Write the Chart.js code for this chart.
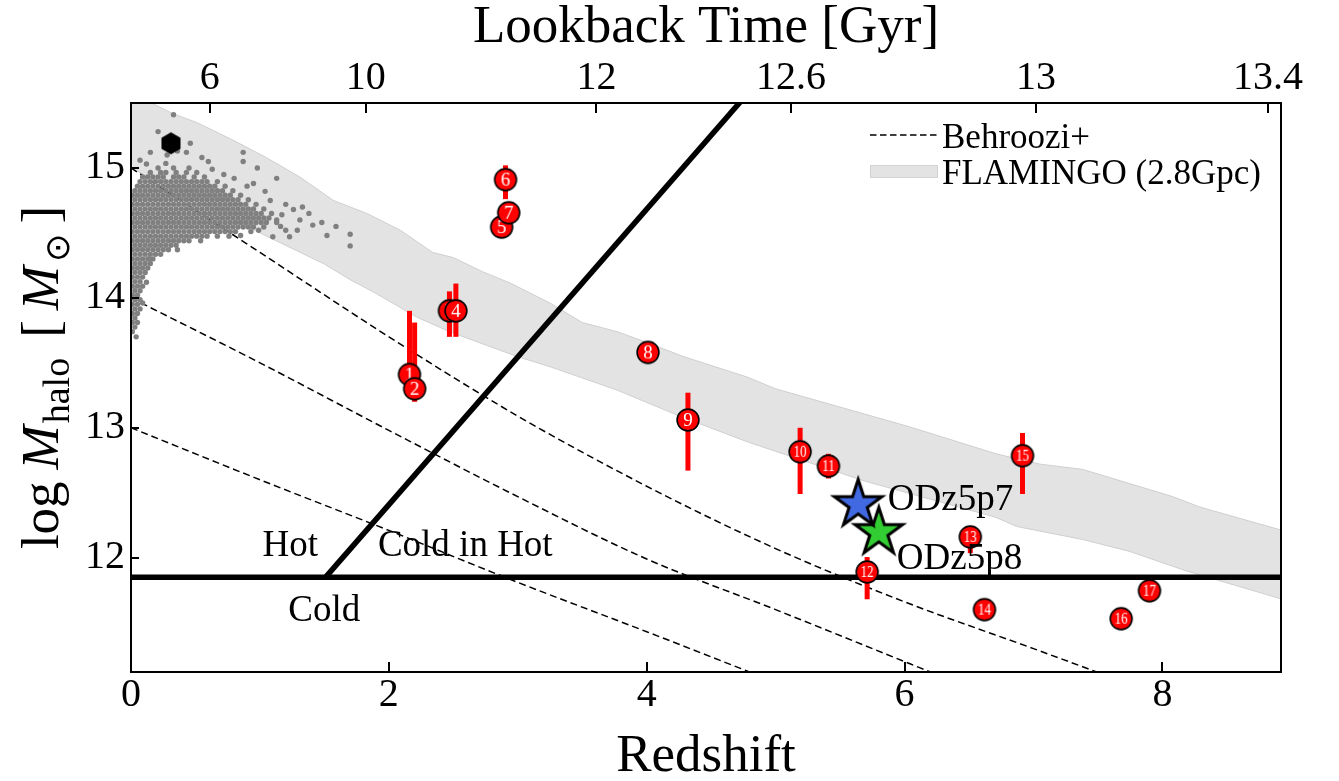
<!DOCTYPE html>
<html>
<head>
<meta charset="utf-8">
<title>Halo mass vs redshift</title>
<script src="https://cdn.jsdelivr.net/npm/chart.js@4.4.1/dist/chart.umd.min.js"></script>
<style>
  html, body { margin: 0; padding: 0; background: #ffffff; }
  #wrap { width: 1339px; height: 781px; }
</style>
</head>
<body>
<div id="wrap"><canvas id="chart" width="1339" height="781"></canvas></div>
<script>
// ---------------- axis ranges and ticks ----------------
const xMin = 0, xMax = 8.92;
const yMin = 11.12, yMax = 15.5;
const xTicks = [0, 2, 4, 6, 8];
const yTicks = [12, 13, 14, 15];
const lookbackTickZ = [0.61, 1.82, 3.61, 5.12, 7.02, 8.82];
const lookbackTickLabels = ['6', '10', '12', '12.6', '13', '13.4'];

// ---------------- FLAMINGO (2.8Gpc) halo-mass band ----------------
const flamingoUpperZ = [0, 0.19, 0.32, 0.51, 0.79, 1.05, 1.31, 1.57, 1.83, 2.09, 2.34, 2.50, 2.73, 2.94, 3.25, 3.50, 3.77, 4.02, 4.28, 4.78, 5.00, 6.03, 6.71, 7.05, 7.38, 8.08, 8.29, 8.93];
const flamingoUpperM = [15.58, 15.485, 15.42, 15.35, 15.215, 15.08, 14.93, 14.75, 14.65, 14.52, 14.35, 14.31, 14.20, 14.115, 13.96, 13.81, 13.74, 13.65, 13.55, 13.39, 13.30, 13.01, 12.80, 12.72, 12.68, 12.47, 12.39, 12.21];
const flamingoLowerZ = [0, 0.50, 1.00, 1.50, 1.70, 1.89, 2.22, 2.47, 2.99, 3.25, 3.77, 4.28, 4.80, 5.69, 6.71, 6.87, 7.38, 7.74, 8.18, 8.93];
const flamingoLowerM = [15.00, 14.75, 14.50, 14.26, 14.14, 14.04, 13.85, 13.74, 13.55, 13.47, 13.29, 13.08, 12.885, 12.59, 12.31, 12.24, 12.14, 12.05, 11.90, 11.68];

// ---------------- Behroozi+ median growth tracks ----------------
const behrooziZ15 = [0, 1, 2, 3, 4, 5, 6, 7, 7.6];
const behrooziM15 = [15.0, 14.35, 13.70, 13.09, 12.55, 12.07, 11.66, 11.30, 11.08];
const behrooziZ14 = [0, 1, 2, 3, 4, 5, 6, 6.3];
const behrooziM14 = [14.0, 13.50, 12.98, 12.47, 11.99, 11.60, 11.20, 11.08];
const behrooziZ13 = [0, 1, 2, 3, 4, 4.85];
const behrooziM13 = [13.0, 12.60, 12.21, 11.81, 11.43, 11.10];

// ---------------- cold / hot accretion boundaries ----------------
const shockFlatZ = [0, 8.92];
const shockFlatM = [11.85, 11.85];
const shockSlopeZ = [1.51, 5.0];
const shockSlopeM = [11.85, 15.82];

// ---------------- local massive clusters (grey cloud), rows of [logM, [z...]] ----------------
const clusterRows = [
  [13.74, [0.01]],
  [13.775, [0.03]],
  [13.81, [0.01, 0.05]],
  [13.845, [0.03]],
  [13.88, [0.01, 0.05]],
  [13.915, [0.03, 0.07]],
  [13.95, [0.01, 0.05]],
  [13.985, [0.03, 0.07]],
  [14.02, [0.01, 0.05]],
  [14.055, [0.03, 0.07]],
  [14.09, [0.01, 0.05, 0.09]],
  [14.125, [0.03, 0.07]],
  [14.16, [0.01, 0.05, 0.09]],
  [14.195, [0.03, 0.07, 0.11]],
  [14.23, [0.01, 0.05, 0.09, 0.13]],
  [14.265, [0.03, 0.07, 0.11, 0.15]],
  [14.30, [0.01, 0.05, 0.09, 0.13, 0.17]],
  [14.335, [0.03, 0.07, 0.11, 0.15, 0.19, 0.23]],
  [14.37, [0.01, 0.05, 0.09, 0.13, 0.17, 0.21, 0.25, 0.29, 0.36]],
  [14.405, [0.03, 0.07, 0.11, 0.15, 0.19, 0.23, 0.27, 0.31, 0.35]],
  [14.44, [0.01, 0.05, 0.09, 0.13, 0.17, 0.21, 0.25, 0.29, 0.33, 0.37, 0.41, 0.45, 0.54]],
  [14.475, [0.03, 0.07, 0.11, 0.15, 0.19, 0.23, 0.27, 0.31, 0.35, 0.39, 0.43, 0.47, 0.51, 0.55, 0.59, 0.67, 0.76]],
  [14.51, [0.01, 0.05, 0.09, 0.13, 0.17, 0.21, 0.25, 0.29, 0.33, 0.37, 0.41, 0.45, 0.49, 0.53, 0.57, 0.61, 0.65, 0.69, 0.73, 0.77, 0.81, 0.93]],
  [14.545, [0.03, 0.07, 0.11, 0.15, 0.19, 0.23, 0.27, 0.31, 0.35, 0.39, 0.43, 0.47, 0.51, 0.55, 0.59, 0.63, 0.67, 0.71, 0.75, 0.79, 0.83, 0.87, 0.91, 0.95, 1.03]],
  [14.58, [0.01, 0.05, 0.09, 0.13, 0.17, 0.21, 0.25, 0.29, 0.33, 0.37, 0.41, 0.45, 0.49, 0.53, 0.57, 0.61, 0.65, 0.69, 0.73, 0.77, 0.81, 0.85, 0.89, 0.93, 0.97, 1.01, 1.05, 1.13]],
  [14.615, [0.03, 0.07, 0.11, 0.15, 0.19, 0.23, 0.27, 0.31, 0.35, 0.39, 0.43, 0.47, 0.51, 0.55, 0.59, 0.63, 0.67, 0.71, 0.75, 0.79, 0.83, 0.87, 0.91, 0.95, 0.99, 1.03, 1.07]],
  [14.65, [0.01, 0.05, 0.09, 0.13, 0.17, 0.21, 0.25, 0.29, 0.33, 0.37, 0.41, 0.45, 0.49, 0.53, 0.57, 0.61, 0.65, 0.69, 0.73, 0.77, 0.81, 0.85, 0.89, 0.93, 0.97, 1.01, 1.09]],
  [14.685, [0.03, 0.07, 0.11, 0.15, 0.19, 0.23, 0.27, 0.31, 0.35, 0.39, 0.43, 0.47, 0.51, 0.55, 0.59, 0.63, 0.67, 0.71, 0.75, 0.79, 0.83, 0.87, 0.91, 0.95, 1.03]],
  [14.72, [0.01, 0.05, 0.09, 0.13, 0.17, 0.21, 0.25, 0.29, 0.33, 0.37, 0.41, 0.45, 0.49, 0.53, 0.57, 0.61, 0.65, 0.69, 0.73, 0.77, 0.81, 0.85, 0.89, 0.97]],
  [14.755, [0.03, 0.07, 0.11, 0.15, 0.19, 0.23, 0.27, 0.31, 0.35, 0.39, 0.43, 0.47, 0.51, 0.55, 0.59, 0.63, 0.67, 0.71, 0.75, 0.79, 0.83, 0.91]],
  [14.79, [0.01, 0.05, 0.09, 0.13, 0.17, 0.21, 0.25, 0.29, 0.33, 0.37, 0.41, 0.45, 0.49, 0.53, 0.57, 0.61, 0.65, 0.69, 0.73, 0.77, 0.85]],
  [14.825, [0.03, 0.07, 0.11, 0.15, 0.19, 0.23, 0.27, 0.31, 0.35, 0.39, 0.43, 0.47, 0.51, 0.55, 0.59, 0.63, 0.67, 0.71, 0.79]],
  [14.86, [0.05, 0.09, 0.13, 0.17, 0.21, 0.25, 0.29, 0.33, 0.37, 0.41, 0.45, 0.49, 0.53, 0.57, 0.61, 0.65, 0.73]],
  [14.895, [0.07, 0.11, 0.15, 0.19, 0.23, 0.27, 0.31, 0.35, 0.39, 0.43, 0.47, 0.51, 0.55, 0.59, 0.67]],
  [14.93, [0.09, 0.13, 0.17, 0.21, 0.25, 0.33, 0.37, 0.41, 0.49, 0.57]],
  [14.965, [0.15, 0.23, 0.27, 0.35, 0.43, 0.51]],
  [15.0, [0.21, 0.33, 0.45]],
  [15.035, [0.27]]
];
const clusterOutliers = [
  [0.33, 15.41], [0.21, 15.28], [0.46, 15.19], [0.15, 15.12], [0.43, 15.12], [0.55, 15.08],
  [0.60, 15.05], [0.07, 15.06], [0.12, 15.03], [0.28, 15.10], [0.36, 15.13], [0.87, 15.12],
  [0.87, 15.05], [0.98, 15.00], [1.13, 14.92], [1.33, 14.70], [1.17, 14.64], [1.31, 14.60],
  [1.41, 14.56], [1.48, 14.58], [1.52, 14.48], [1.70, 14.49], [1.70, 14.40], [1.29, 14.52],
  [1.20, 14.52], [1.10, 14.47], [1.23, 14.47], [1.04, 14.82], [0.95, 14.88], [1.20, 14.72],
  [1.38, 14.65], [1.59, 14.55], [0.72, 14.95], [0.80, 14.92], [1.16, 14.55], [1.26, 14.68],
  [0.63, 14.99], [0.09, 13.96], [0.12, 14.12], [0.14, 14.30], [0.04, 13.70], [0.85, 14.48],
  [1.08, 14.75], [0.90, 14.86], [1.13, 14.60], [0.99, 14.52]
];

// most massive local cluster (black hexagon)
const hexZ = [0.31];
const hexM = [15.19];

// ---------------- numbered protocluster samples ----------------
const groupIds = ['1', '2', '3', '4', '5', '6', '7', '8', '9', '10', '11', '12', '13', '14', '15', '16', '17'];
const groupZ = [2.16, 2.20, 2.47, 2.52, 2.875, 2.905, 2.93, 4.01, 4.32, 5.19, 5.41, 5.71, 6.51, 6.62, 6.915, 7.68, 7.90];
const groupM = [13.41, 13.30, 13.90, 13.90, 14.545, 14.91, 14.655, 13.58, 13.06, 12.815, 12.705, 11.89, 12.16, 11.60, 12.785, 11.53, 11.745];
const groupErrLo = [13.40, 13.20, 13.70, 13.70, null, 14.76, null, null, 12.67, 12.49, 12.61, 11.68, 12.035, null, 12.49, null, null];
const groupErrHi = [13.90, 13.81, 14.05, 14.11, null, 15.02, null, null, 13.27, 13.00, 12.80, 12.005, 12.20, null, 12.96, null, null];

// ---------------- this work ----------------
const starNames = ['ODz5p7', 'ODz5p8'];
const starZ = [5.64, 5.80];
const starM = [12.41, 12.195];
const starColors = ['#4169e1', '#32cd32'];
const starLabelZ = [5.87, 5.94];
const starLabelM = [12.37, 11.91];

// ---------------- regime annotations ----------------
const regionTexts = ['Hot', 'Cold in Hot', 'Cold'];
const regionZ = [1.02, 1.915, 1.22];
const regionM = [12.01, 12.01, 11.51];

// ---------------- helpers ----------------
const SERIF = '"Liberation Serif", "Times New Roman", serif';
const toPoints = (zs, ms) => zs.map((z, i) => ({ x: z, y: ms[i] }));
const clusterPoints = [];
clusterRows.forEach(([m, zs]) => zs.forEach(z => clusterPoints.push({ x: z, y: m })));
clusterOutliers.forEach(([z, m]) => clusterPoints.push({ x: z, y: m }));

function markerImage(label) {
  const s = 26, c = document.createElement('canvas');
  c.width = s; c.height = s;
  const g = c.getContext('2d');
  g.beginPath();
  g.arc(s / 2, s / 2, 10.9, 0, Math.PI * 2);
  g.fillStyle = '#ff0000';
  g.fill();
  g.lineWidth = 1.6;
  g.strokeStyle = '#000000';
  g.stroke();
  g.fillStyle = '#ffffff';
  g.textAlign = 'center';
  g.textBaseline = 'middle';
  g.save();
  g.translate(s / 2, s / 2 + 1);
  if (label.length > 1) {
    g.font = '17px ' + SERIF;
    g.scale(0.76, 1);
  } else {
    g.font = '19px ' + SERIF;
  }
  g.fillText(label, 0, 0);
  g.restore();
  return c;
}

function starImage(fill) {
  const R = 25, r = R * 0.381966, pad = 7;
  const s = Math.ceil(2 * (R + pad));
  const c = document.createElement('canvas');
  c.width = s; c.height = s;
  const g = c.getContext('2d');
  g.beginPath();
  for (let i = 0; i < 10; i++) {
    const a = -Math.PI / 2 + i * Math.PI / 5;
    const rad = i % 2 ? r : R;
    const px = s / 2 + rad * Math.cos(a), py = s / 2 + rad * Math.sin(a);
    if (i === 0) g.moveTo(px, py); else g.lineTo(px, py);
  }
  g.closePath();
  g.fillStyle = fill;
  g.fill();
  g.lineJoin = 'miter';
  g.lineWidth = 3;
  g.strokeStyle = '#000000';
  g.stroke();
  return c;
}

function hexImage() {
  const R = 11, s = 26;
  const c = document.createElement('canvas');
  c.width = s; c.height = s;
  const g = c.getContext('2d');
  g.beginPath();
  for (let i = 0; i < 6; i++) {
    const a = -Math.PI / 2 + i * Math.PI / 3;
    const px = s / 2 + R * Math.cos(a), py = s / 2 + R * Math.sin(a);
    if (i === 0) g.moveTo(px, py); else g.lineTo(px, py);
  }
  g.closePath();
  g.fillStyle = '#000000';
  g.fill();
  return c;
}

const groupImages = groupIds.map(markerImage);
const starImages = starColors.map(starImage);

// ---------------- custom drawing: error bars, labels, legend, frame ----------------
const decorations = {
  id: 'decorations',
  beforeDatasetDraw(chart, args) {
    const ds = chart.data.datasets[args.index];
    if (ds.label !== 'groups') return;
    const { ctx, scales: { x, y } } = chart;
    ctx.save();
    ctx.strokeStyle = '#ff0000';
    ctx.lineWidth = 5;
    ctx.lineCap = 'butt';
    groupZ.forEach((z, i) => {
      if (groupErrLo[i] === null) return;
      const px = x.getPixelForValue(z);
      ctx.beginPath();
      ctx.moveTo(px, y.getPixelForValue(groupErrLo[i]));
      ctx.lineTo(px, y.getPixelForValue(groupErrHi[i]));
      ctx.stroke();
    });
    ctx.restore();
  },
  afterDatasetsDraw(chart) {
    const { ctx, scales: { x, y }, chartArea: a } = chart;
    ctx.save();
    ctx.fillStyle = '#000000';
    ctx.textAlign = 'left';
    ctx.textBaseline = 'alphabetic';

    ctx.font = '37px ' + SERIF;
    regionTexts.forEach((t, i) => ctx.fillText(t, x.getPixelForValue(regionZ[i]), y.getPixelForValue(regionM[i])));
    starNames.forEach((t, i) => ctx.fillText(t, x.getPixelForValue(starLabelZ[i]), y.getPixelForValue(starLabelM[i])));

    // legend (upper right, no frame)
    const hx0 = a.right - 411, hx1 = a.right - 343, tx = a.right - 339;
    ctx.strokeStyle = '#000000';
    ctx.lineWidth = 1.5;
    ctx.setLineDash([6.5, 3.5]);
    ctx.beginPath();
    ctx.moveTo(hx0, a.top + 32);
    ctx.lineTo(hx1, a.top + 32);
    ctx.stroke();
    ctx.setLineDash([]);
    ctx.fillStyle = 'rgb(227,227,227)';
    ctx.fillRect(hx0, a.top + 62, hx1 - hx0, 13);
    ctx.strokeStyle = '#d2d2d2';
    ctx.lineWidth = 1;
    ctx.strokeRect(hx0 + 0.5, a.top + 62.5, hx1 - hx0 - 1, 12);
    ctx.fillStyle = '#000000';
    ctx.font = '35px ' + SERIF;
    ctx.fillText('Behroozi+', tx, a.top + 45);
    ctx.fillText('FLAMINGO (2.8Gpc)', tx, a.top + 81);
    ctx.restore();
  },
  afterDraw(chart) {
    const { ctx, scales: { x, y }, chartArea: a } = chart;
    ctx.save();
    ctx.strokeStyle = '#000000';
    ctx.lineWidth = 2;
    ctx.strokeRect(a.left, a.top, a.right - a.left, a.bottom - a.top);
    ctx.beginPath();
    xTicks.forEach(v => {
      const px = Math.round(x.getPixelForValue(v));
      ctx.moveTo(px, a.bottom);
      ctx.lineTo(px, a.bottom - 10);
    });
    lookbackTickZ.forEach(v => {
      const px = Math.round(x.getPixelForValue(v));
      ctx.moveTo(px, a.top);
      ctx.lineTo(px, a.top + 10);
    });
    yTicks.forEach(v => {
      const py = Math.round(y.getPixelForValue(v));
      ctx.moveTo(a.left, py);
      ctx.lineTo(a.left + 8, py);
    });
    ctx.stroke();

    // y-axis title: log M_halo [M_sun]
    const big = '53px ' + SERIF, ital = 'italic 53px ' + SERIF, small = '38px ' + SERIF;
    const sym = '34px "DejaVu Sans", sans-serif';
    const parts = [
      ['log', big, 0, 12], ['M', ital, 0, 2], ['halo', small, 11, 20],
      ['[', big, 0, 10], ['M', ital, 0, 4], ['\u2299', sym, 11, 10], [']', big, 0, 0]
    ];
    let total = 0;
    parts.forEach(p => { ctx.font = p[1]; p.push(ctx.measureText(p[0]).width); total += p[4] + p[3]; });
    ctx.translate(58, (a.top + a.bottom) / 2 - 10);
    ctx.rotate(-Math.PI / 2);
    ctx.fillStyle = '#000000';
    ctx.textAlign = 'left';
    ctx.textBaseline = 'alphabetic';
    let cx = -total / 2;
    parts.forEach(p => {
      ctx.font = p[1];
      ctx.fillText(p[0], cx, p[2]);
      cx += p[4] + p[3];
    });
    ctx.restore();
  }
};

// ---------------- chart ----------------
const tickFont = { family: SERIF, size: 40, lineHeight: 1 };
const titleFont = { family: SERIF, size: 53, lineHeight: 0.9 };

new Chart(document.getElementById('chart').getContext('2d'), {
  type: 'scatter',
  data: {
    datasets: [
      {
        label: 'FLAMINGO upper',
        data: toPoints(flamingoUpperZ, flamingoUpperM),
        showLine: true, pointRadius: 0, borderColor: '#cfcfcf', borderWidth: 1,
        backgroundColor: 'rgb(227,227,227)', fill: '+1', order: 30
      },
      {
        label: 'FLAMINGO lower',
        data: toPoints(flamingoLowerZ, flamingoLowerM),
        showLine: true, pointRadius: 0, borderColor: '#cfcfcf', borderWidth: 1,
        fill: false, order: 29
      },
      {
        label: 'Behroozi 15',
        data: toPoints(behrooziZ15, behrooziM15),
        showLine: true, pointRadius: 0, borderColor: '#000000', borderWidth: 1.5,
        borderDash: [7, 4], cubicInterpolationMode: 'monotone', fill: false, order: 25
      },
      {
        label: 'Behroozi 14',
        data: toPoints(behrooziZ14, behrooziM14),
        showLine: true, pointRadius: 0, borderColor: '#000000', borderWidth: 1.5,
        borderDash: [7, 4], cubicInterpolationMode: 'monotone', fill: false, order: 24
      },
      {
        label: 'Behroozi 13',
        data: toPoints(behrooziZ13, behrooziM13),
        showLine: true, pointRadius: 0, borderColor: '#000000', borderWidth: 1.5,
        borderDash: [7, 4], cubicInterpolationMode: 'monotone', fill: false, order: 23
      },
      {
        label: 'shock flat',
        data: toPoints(shockFlatZ, shockFlatM),
        showLine: true, pointRadius: 0, borderColor: '#000000', borderWidth: 5.5,
        fill: false, order: 20
      },
      {
        label: 'shock slope',
        data: toPoints(shockSlopeZ, shockSlopeM),
        showLine: true, pointRadius: 0, borderColor: '#000000', borderWidth: 5.5,
        fill: false, order: 19
      },
      {
        label: 'clusters',
        data: clusterPoints,
        pointRadius: 2.7, pointBorderWidth: 0, pointBackgroundColor: '#808080',
        backgroundColor: '#808080', order: 15
      },
      {
        label: 'massive cluster',
        data: toPoints(hexZ, hexM),
        pointStyle: hexImage(), order: 14
      },
      {
        label: 'groups',
        data: toPoints(groupZ, groupM),
        pointStyle: groupImages, order: 10
      },
      {
        label: 'ODz5p8',
        data: toPoints([starZ[1]], [starM[1]]),
        pointStyle: starImages[1], order: 6
      },
      {
        label: 'ODz5p7',
        data: toPoints([starZ[0]], [starM[0]]),
        pointStyle: starImages[0], order: 5
      }
    ]
  },
  options: {
    responsive: false,
    animation: false,
    devicePixelRatio: 1,
    layout: { padding: { left: 0, right: 58, top: 0, bottom: 0 } },
    plugins: { legend: { display: false }, tooltip: { enabled: false } },
    events: [],
    scales: {
      x: {
        type: 'linear', position: 'bottom', min: xMin, max: xMax,
        afterBuildTicks: s => { s.ticks = xTicks.map(v => ({ value: v })); },
        afterFit: s => { s.height = 109; },
        grid: { display: false, drawTicks: false },
        border: { display: false },
        ticks: { font: tickFont, color: '#000000', padding: 3, maxRotation: 0, autoSkip: false },
        title: { display: true, text: 'Redshift', font: titleFont, color: '#000000', padding: { top: 0, bottom: 0 } }
      },
      xTop: {
        type: 'linear', position: 'top', axis: 'x', min: xMin, max: xMax,
        afterBuildTicks: s => { s.ticks = lookbackTickZ.map(v => ({ value: v })); },
        afterFit: s => { s.height = 103; },
        grid: { display: false, drawTicks: false },
        border: { display: false },
        ticks: {
          font: tickFont, color: '#000000', padding: 5, maxRotation: 0, autoSkip: false,
          callback: (v, i) => lookbackTickLabels[i]
        },
        title: { display: true, text: 'Lookback Time [Gyr]', font: { family: SERIF, size: 53, lineHeight: 1 }, color: '#000000', padding: { top: 2, bottom: 0 } }
      },
      y: {
        type: 'linear', position: 'left', min: yMin, max: yMax,
        afterBuildTicks: s => { s.ticks = yTicks.map(v => ({ value: v })); },
        afterFit: s => { s.width = 131; },
        grid: { display: false, drawTicks: false },
        border: { display: false },
        ticks: { font: tickFont, color: '#000000', padding: 6, autoSkip: false }
      }
    }
  },
  plugins: [decorations]
});
</script>
</body>
</html>
